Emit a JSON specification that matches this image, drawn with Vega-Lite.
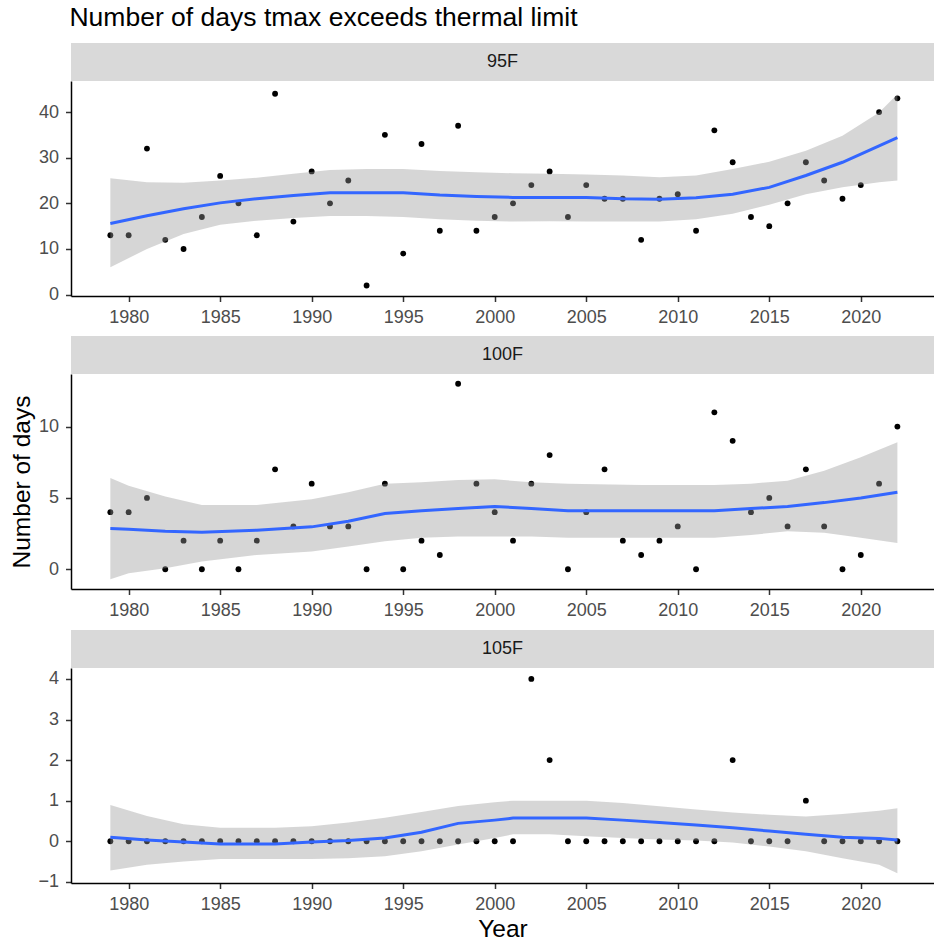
{
  "$schema": "https://vega.github.io/schema/vega-lite/v6.json",
  "padding": {"left": 9, "top": 4, "right": 0, "bottom": 0},
  "title": {"text": "Number of days tmax exceeds thermal limit", "anchor": "start", "fontSize": 26.5, "fontWeight": "normal", "color": "#000000", "offset": 12, "dx": 60},
  "config": {
    "font": "Liberation Sans",
    "view": {"stroke": null},
    "concat": {"spacing": 0},
    "axis": {"grid": false, "domainColor": "#000000", "domainWidth": 1.5, "tickColor": "#333333", "tickWidth": 1.5, "tickSize": 5.5, "labelColor": "#4d4d4d", "labelFontSize": 18, "labelPadding": 7, "titleFontWeight": "normal", "titleFontSize": 24.5, "titleColor": "#000000"}
  },
  "datasets": {
    "pts": [
      {"panel":"95F","year":1979,"days":13},{"panel":"95F","year":1980,"days":13},{"panel":"95F","year":1981,"days":32},{"panel":"95F","year":1982,"days":12},{"panel":"95F","year":1983,"days":10},{"panel":"95F","year":1984,"days":17},{"panel":"95F","year":1985,"days":26},{"panel":"95F","year":1986,"days":20},{"panel":"95F","year":1987,"days":13},{"panel":"95F","year":1988,"days":44},{"panel":"95F","year":1989,"days":16},{"panel":"95F","year":1990,"days":27},{"panel":"95F","year":1991,"days":20},{"panel":"95F","year":1992,"days":25},{"panel":"95F","year":1993,"days":2},{"panel":"95F","year":1994,"days":35},{"panel":"95F","year":1995,"days":9},{"panel":"95F","year":1996,"days":33},{"panel":"95F","year":1997,"days":14},{"panel":"95F","year":1998,"days":37},{"panel":"95F","year":1999,"days":14},{"panel":"95F","year":2000,"days":17},{"panel":"95F","year":2001,"days":20},{"panel":"95F","year":2002,"days":24},{"panel":"95F","year":2003,"days":27},{"panel":"95F","year":2004,"days":17},{"panel":"95F","year":2005,"days":24},{"panel":"95F","year":2006,"days":21},{"panel":"95F","year":2007,"days":21},{"panel":"95F","year":2008,"days":12},{"panel":"95F","year":2009,"days":21},{"panel":"95F","year":2010,"days":22},{"panel":"95F","year":2011,"days":14},{"panel":"95F","year":2012,"days":36},{"panel":"95F","year":2013,"days":29},{"panel":"95F","year":2014,"days":17},{"panel":"95F","year":2015,"days":15},{"panel":"95F","year":2016,"days":20},{"panel":"95F","year":2017,"days":29},{"panel":"95F","year":2018,"days":25},{"panel":"95F","year":2019,"days":21},{"panel":"95F","year":2020,"days":24},{"panel":"95F","year":2021,"days":40},{"panel":"95F","year":2022,"days":43},
      {"panel":"100F","year":1979,"days":4},{"panel":"100F","year":1980,"days":4},{"panel":"100F","year":1981,"days":5},{"panel":"100F","year":1982,"days":0},{"panel":"100F","year":1983,"days":2},{"panel":"100F","year":1984,"days":0},{"panel":"100F","year":1985,"days":2},{"panel":"100F","year":1986,"days":0},{"panel":"100F","year":1987,"days":2},{"panel":"100F","year":1988,"days":7},{"panel":"100F","year":1989,"days":3},{"panel":"100F","year":1990,"days":6},{"panel":"100F","year":1991,"days":3},{"panel":"100F","year":1992,"days":3},{"panel":"100F","year":1993,"days":0},{"panel":"100F","year":1994,"days":6},{"panel":"100F","year":1995,"days":0},{"panel":"100F","year":1996,"days":2},{"panel":"100F","year":1997,"days":1},{"panel":"100F","year":1998,"days":13},{"panel":"100F","year":1999,"days":6},{"panel":"100F","year":2000,"days":4},{"panel":"100F","year":2001,"days":2},{"panel":"100F","year":2002,"days":6},{"panel":"100F","year":2003,"days":8},{"panel":"100F","year":2004,"days":0},{"panel":"100F","year":2005,"days":4},{"panel":"100F","year":2006,"days":7},{"panel":"100F","year":2007,"days":2},{"panel":"100F","year":2008,"days":1},{"panel":"100F","year":2009,"days":2},{"panel":"100F","year":2010,"days":3},{"panel":"100F","year":2011,"days":0},{"panel":"100F","year":2012,"days":11},{"panel":"100F","year":2013,"days":9},{"panel":"100F","year":2014,"days":4},{"panel":"100F","year":2015,"days":5},{"panel":"100F","year":2016,"days":3},{"panel":"100F","year":2017,"days":7},{"panel":"100F","year":2018,"days":3},{"panel":"100F","year":2019,"days":0},{"panel":"100F","year":2020,"days":1},{"panel":"100F","year":2021,"days":6},{"panel":"100F","year":2022,"days":10},
      {"panel":"105F","year":1979,"days":0},{"panel":"105F","year":1980,"days":0},{"panel":"105F","year":1981,"days":0},{"panel":"105F","year":1982,"days":0},{"panel":"105F","year":1983,"days":0},{"panel":"105F","year":1984,"days":0},{"panel":"105F","year":1985,"days":0},{"panel":"105F","year":1986,"days":0},{"panel":"105F","year":1987,"days":0},{"panel":"105F","year":1988,"days":0},{"panel":"105F","year":1989,"days":0},{"panel":"105F","year":1990,"days":0},{"panel":"105F","year":1991,"days":0},{"panel":"105F","year":1992,"days":0},{"panel":"105F","year":1993,"days":0},{"panel":"105F","year":1994,"days":0},{"panel":"105F","year":1995,"days":0},{"panel":"105F","year":1996,"days":0},{"panel":"105F","year":1997,"days":0},{"panel":"105F","year":1998,"days":0},{"panel":"105F","year":1999,"days":0},{"panel":"105F","year":2000,"days":0},{"panel":"105F","year":2001,"days":0},{"panel":"105F","year":2002,"days":4},{"panel":"105F","year":2003,"days":2},{"panel":"105F","year":2004,"days":0},{"panel":"105F","year":2005,"days":0},{"panel":"105F","year":2006,"days":0},{"panel":"105F","year":2007,"days":0},{"panel":"105F","year":2008,"days":0},{"panel":"105F","year":2009,"days":0},{"panel":"105F","year":2010,"days":0},{"panel":"105F","year":2011,"days":0},{"panel":"105F","year":2012,"days":0},{"panel":"105F","year":2013,"days":2},{"panel":"105F","year":2014,"days":0},{"panel":"105F","year":2015,"days":0},{"panel":"105F","year":2016,"days":0},{"panel":"105F","year":2017,"days":1},{"panel":"105F","year":2018,"days":0},{"panel":"105F","year":2019,"days":0},{"panel":"105F","year":2020,"days":0},{"panel":"105F","year":2021,"days":0},{"panel":"105F","year":2022,"days":0}
    ],
    "sm": [
      {"panel":"95F","year":1979,"fit":15.6,"lo":6.0,"hi":25.5},{"panel":"95F","year":1981,"fit":17.3,"lo":10.0,"hi":24.6},{"panel":"95F","year":1983,"fit":18.8,"lo":13.3,"hi":24.5},{"panel":"95F","year":1985,"fit":20.1,"lo":15.3,"hi":25.0},{"panel":"95F","year":1987,"fit":21.0,"lo":16.2,"hi":25.6},{"panel":"95F","year":1989,"fit":21.7,"lo":16.8,"hi":26.5},{"panel":"95F","year":1991,"fit":22.3,"lo":17.2,"hi":27.3},{"panel":"95F","year":1993,"fit":22.3,"lo":17.2,"hi":27.5},{"panel":"95F","year":1995,"fit":22.3,"lo":17.0,"hi":27.5},{"panel":"95F","year":1997,"fit":21.8,"lo":16.5,"hi":27.1},{"panel":"95F","year":1999,"fit":21.5,"lo":16.2,"hi":26.8},{"panel":"95F","year":2001,"fit":21.3,"lo":16.0,"hi":26.6},{"panel":"95F","year":2003,"fit":21.3,"lo":16.1,"hi":26.5},{"panel":"95F","year":2005,"fit":21.3,"lo":16.0,"hi":26.3},{"panel":"95F","year":2007,"fit":21.0,"lo":16.0,"hi":26.1},{"panel":"95F","year":2009,"fit":20.9,"lo":16.0,"hi":25.7},{"panel":"95F","year":2011,"fit":21.2,"lo":16.5,"hi":26.1},{"panel":"95F","year":2013,"fit":22.0,"lo":17.7,"hi":27.5},{"panel":"95F","year":2015,"fit":23.5,"lo":19.7,"hi":29.1},{"panel":"95F","year":2017,"fit":26.1,"lo":22.0,"hi":31.5},{"panel":"95F","year":2019,"fit":29.0,"lo":23.5,"hi":34.8},{"panel":"95F","year":2021,"fit":32.6,"lo":24.6,"hi":39.9},{"panel":"95F","year":2022,"fit":34.4,"lo":25.0,"hi":43.9},
      {"panel":"100F","year":1979,"fit":2.85,"lo":-0.7,"hi":6.4},{"panel":"100F","year":1980,"fit":2.8,"lo":-0.28,"hi":5.85},{"panel":"100F","year":1982,"fit":2.67,"lo":0.07,"hi":5.1},{"panel":"100F","year":1984,"fit":2.6,"lo":0.54,"hi":4.5},{"panel":"100F","year":1987,"fit":2.74,"lo":1.0,"hi":4.5},{"panel":"100F","year":1990,"fit":2.97,"lo":1.25,"hi":4.9},{"panel":"100F","year":1992,"fit":3.37,"lo":1.6,"hi":5.4},{"panel":"100F","year":1994,"fit":3.9,"lo":1.96,"hi":6.0},{"panel":"100F","year":1996,"fit":4.1,"lo":2.2,"hi":6.1},{"panel":"100F","year":1998,"fit":4.25,"lo":2.3,"hi":6.25},{"panel":"100F","year":2000,"fit":4.4,"lo":2.3,"hi":6.3},{"panel":"100F","year":2002,"fit":4.25,"lo":2.3,"hi":6.1},{"panel":"100F","year":2004,"fit":4.1,"lo":2.2,"hi":6.0},{"panel":"100F","year":2008,"fit":4.1,"lo":2.2,"hi":5.9},{"panel":"100F","year":2012,"fit":4.1,"lo":2.2,"hi":5.9},{"panel":"100F","year":2014,"fit":4.25,"lo":2.4,"hi":6.0},{"panel":"100F","year":2016,"fit":4.4,"lo":2.67,"hi":6.2},{"panel":"100F","year":2018,"fit":4.67,"lo":2.55,"hi":6.9},{"panel":"100F","year":2020,"fit":5.0,"lo":2.2,"hi":7.85},{"panel":"100F","year":2022,"fit":5.4,"lo":1.84,"hi":8.9},
      {"panel":"105F","year":1979,"fit":0.1,"lo":-0.72,"hi":0.89},{"panel":"105F","year":1981,"fit":0.03,"lo":-0.58,"hi":0.62},{"panel":"105F","year":1983,"fit":-0.02,"lo":-0.5,"hi":0.42},{"panel":"105F","year":1985,"fit":-0.07,"lo":-0.44,"hi":0.33},{"panel":"105F","year":1988,"fit":-0.07,"lo":-0.44,"hi":0.33},{"panel":"105F","year":1990,"fit":-0.02,"lo":-0.44,"hi":0.37},{"panel":"105F","year":1992,"fit":0.02,"lo":-0.42,"hi":0.46},{"panel":"105F","year":1994,"fit":0.08,"lo":-0.37,"hi":0.58},{"panel":"105F","year":1996,"fit":0.22,"lo":-0.25,"hi":0.72},{"panel":"105F","year":1998,"fit":0.44,"lo":-0.08,"hi":0.87},{"panel":"105F","year":2000,"fit":0.52,"lo":0.08,"hi":0.96},{"panel":"105F","year":2001,"fit":0.57,"lo":0.17,"hi":1.0},{"panel":"105F","year":2003,"fit":0.57,"lo":0.17,"hi":1.0},{"panel":"105F","year":2005,"fit":0.57,"lo":0.12,"hi":1.0},{"panel":"105F","year":2007,"fit":0.52,"lo":0.08,"hi":0.94},{"panel":"105F","year":2009,"fit":0.46,"lo":0.04,"hi":0.86},{"panel":"105F","year":2011,"fit":0.4,"lo":0.02,"hi":0.78},{"panel":"105F","year":2013,"fit":0.33,"lo":-0.03,"hi":0.71},{"panel":"105F","year":2015,"fit":0.25,"lo":-0.13,"hi":0.65},{"panel":"105F","year":2017,"fit":0.17,"lo":-0.25,"hi":0.61},{"panel":"105F","year":2019,"fit":0.1,"lo":-0.42,"hi":0.67},{"panel":"105F","year":2021,"fit":0.07,"lo":-0.58,"hi":0.75},{"panel":"105F","year":2022,"fit":0.03,"lo":-0.79,"hi":0.81}
    ]
  },
  "vconcat": [
    {"width": 863, "height": 38, "view": {"fill": "#d9d9d9", "stroke": null}, "data": {"values": [{"label": "95F"}]}, "mark": {"type": "text", "fontSize": 18, "color": "#1a1a1a"}, "encoding": {"text": {"field": "label"}}},
    {"width": 863, "height": 215,
     "layer": [
      {"data": {"name": "pts"}, "transform": [{"filter": "datum.panel === '95F'"}], "mark": {"type": "circle", "color": "#000000", "size": 34, "opacity": 1},
       "encoding": {"x": {"field": "year", "type": "quantitative", "title": " ", "scale": {"domain": [1976.85, 2024], "nice": false, "zero": false}, "axis": {"values": [1980,1985,1990,1995,2000,2005,2010,2015,2020], "format": "d", "titleFontSize": 9, "titlePadding": 0}},
                    "y": {"field": "days", "type": "quantitative", "title": null, "scale": {"domain": [-0.3, 46.8], "nice": false, "zero": false}, "axis": {"values": [0,10,20,30,40]}}}},
      {"data": {"name": "sm"}, "transform": [{"filter": "datum.panel === '95F'"}], "mark": {"type": "area", "color": "#999999", "opacity": 0.4},
       "encoding": {"x": {"field": "year", "type": "quantitative", "title": " "}, "y": {"field": "lo", "type": "quantitative", "title": null}, "y2": {"field": "hi"}}},
      {"data": {"name": "sm"}, "transform": [{"filter": "datum.panel === '95F'"}], "mark": {"type": "line", "color": "#3366ff", "strokeWidth": 3},
       "encoding": {"x": {"field": "year", "type": "quantitative", "title": " "}, "y": {"field": "fit", "type": "quantitative", "title": null}}}
     ]},
    {"width": 863, "height": 38, "view": {"fill": "#d9d9d9", "stroke": null}, "data": {"values": [{"label": "100F"}]}, "mark": {"type": "text", "fontSize": 18, "color": "#1a1a1a"}, "encoding": {"text": {"field": "label"}}},
    {"width": 863, "height": 215,
     "layer": [
      {"data": {"name": "pts"}, "transform": [{"filter": "datum.panel === '100F'"}], "mark": {"type": "circle", "color": "#000000", "size": 34, "opacity": 1},
       "encoding": {"x": {"field": "year", "type": "quantitative", "title": " ", "scale": {"domain": [1976.85, 2024], "nice": false, "zero": false}, "axis": {"values": [1980,1985,1990,1995,2000,2005,2010,2015,2020], "format": "d", "titleFontSize": 10, "titlePadding": 0}},
                    "y": {"field": "days", "type": "quantitative", "title": "Number of days", "scale": {"domain": [-1.385, 13.685], "nice": false, "zero": false}, "axis": {"values": [0,5,10], "titlePadding": 4}}}},
      {"data": {"name": "sm"}, "transform": [{"filter": "datum.panel === '100F'"}], "mark": {"type": "area", "color": "#999999", "opacity": 0.4},
       "encoding": {"x": {"field": "year", "type": "quantitative", "title": " "}, "y": {"field": "lo", "type": "quantitative", "title": "Number of days"}, "y2": {"field": "hi"}}},
      {"data": {"name": "sm"}, "transform": [{"filter": "datum.panel === '100F'"}], "mark": {"type": "line", "color": "#3366ff", "strokeWidth": 3},
       "encoding": {"x": {"field": "year", "type": "quantitative", "title": " "}, "y": {"field": "fit", "type": "quantitative", "title": "Number of days"}}}
     ]},
    {"width": 863, "height": 38, "view": {"fill": "#d9d9d9", "stroke": null}, "data": {"values": [{"label": "105F"}]}, "mark": {"type": "text", "fontSize": 18, "color": "#1a1a1a"}, "encoding": {"text": {"field": "label"}}},
    {"width": 863, "height": 215,
     "layer": [
      {"data": {"name": "pts"}, "transform": [{"filter": "datum.panel === '105F'"}], "mark": {"type": "circle", "color": "#000000", "size": 34, "opacity": 1},
       "encoding": {"x": {"field": "year", "type": "quantitative", "title": "Year", "scale": {"domain": [1976.85, 2024], "nice": false, "zero": false}, "axis": {"values": [1980,1985,1990,1995,2000,2005,2010,2015,2020], "format": "d", "titlePadding": 4}},
                    "y": {"field": "days", "type": "quantitative", "title": null, "scale": {"domain": [-1.03, 4.27], "nice": false, "zero": false}, "axis": {"values": [-1,0,1,2,3,4]}}}},
      {"data": {"name": "sm"}, "transform": [{"filter": "datum.panel === '105F'"}], "mark": {"type": "area", "color": "#999999", "opacity": 0.4},
       "encoding": {"x": {"field": "year", "type": "quantitative", "title": "Year"}, "y": {"field": "lo", "type": "quantitative", "title": null}, "y2": {"field": "hi"}}},
      {"data": {"name": "sm"}, "transform": [{"filter": "datum.panel === '105F'"}], "mark": {"type": "line", "color": "#3366ff", "strokeWidth": 3},
       "encoding": {"x": {"field": "year", "type": "quantitative", "title": "Year"}, "y": {"field": "fit", "type": "quantitative", "title": null}}}
     ]}
  ]
}
